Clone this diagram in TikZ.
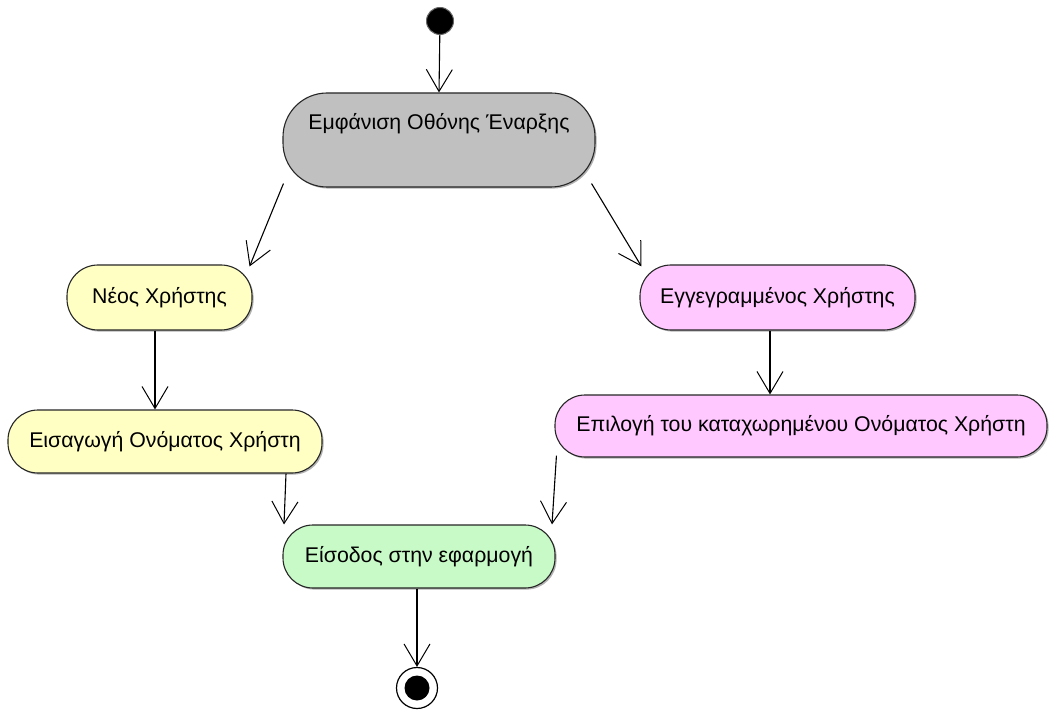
\documentclass[tikz,border=0pt]{standalone}
\usepackage{fontspec}
\setmainfont{Liberation Sans}
\usetikzlibrary{arrows.meta,shadows}
\definecolor{actgray}{RGB}{192,192,192}
\definecolor{actyellow}{RGB}{255,255,196}
\definecolor{actpink}{RGB}{255,200,255}
\definecolor{actgreen}{RGB}{200,250,200}
\tikzset{
  activity/.style={draw=black!85, line width=1.1pt, rectangle,
    rounded corners=#1, inner sep=0pt,
    font=\fontsize{21.3}{25}\selectfont,
    general shadow={shadow xshift=1.6pt, shadow yshift=-1.6pt, fill=black!30}},
  flow/.style={draw=black, line width=1.1pt,
    -{Straight Barb[length=22pt,width=26pt,line width=1pt]}},
}
\begin{document}
\begin{tikzpicture}[x=1pt,y=-1pt]
  \useasboundingbox (0,0) rectangle (1049,711);
  % initial and final states
  \node[circle, fill=black, draw=black!60, line width=1pt,
        minimum size=27pt, inner sep=0pt] (start) at (440,21) {};
  \node[circle, fill=white, draw=black, line width=1.2pt,
        minimum size=41pt, inner sep=0pt] (final) at (417,688) {};
  \node[circle, fill=black, minimum size=25pt, inner sep=0pt] (finaldot) at (final) {};
  % activities
  \node[activity=44pt, fill=actgray, minimum width=312pt, minimum height=94pt,
        text height=15pt, text depth=35pt] (splash) at (439,140)
        {Εμφάνιση Οθόνης Έναρξης};
  \node[activity=31pt, fill=actyellow, minimum width=185pt, minimum height=65pt]
        (newuser) at (159.5,297.5) {Νέος Χρήστης};
  \node[activity=31pt, fill=actpink, minimum width=275pt, minimum height=65pt]
        (reguser) at (777.5,297.5) {Εγγεγραμμένος Χρήστης};
  \node[activity=30pt, fill=actyellow, minimum width=314pt, minimum height=63pt]
        (entername) at (165,441.5) {Εισαγωγή Ονόματος Χρήστη};
  \node[activity=30pt, fill=actpink, minimum width=492pt, minimum height=62pt]
        (pickname) at (801,426) {Επιλογή του καταχωρημένου Ονόματος Χρήστη};
  \node[activity=30pt, fill=actgreen, minimum width=272pt, minimum height=63pt]
        (login) at (419,556.5) {Είσοδος στην εφαρμογή};
  % control flows
  \draw[flow] (start) -- (splash.north);
  \draw[flow] ([shift={(1pt,4pt)}]splash.south west) -- ([shift={(-3pt,-2pt)}]newuser.north east);
  \draw[flow] ([shift={(-4pt,4pt)}]splash.south east) -- ([shift={(2pt,-2pt)}]reguser.north west);
  \draw[flow] ([xshift=-4.5pt]newuser.south) -- ([xshift=-4.5pt]newuser.south |- entername.north);
  \draw[flow] ([xshift=-7.5pt]reguser.south) -- ([xshift=-7.5pt]reguser.south |- pickname.north);
  \draw[flow] ([xshift=121pt]entername.south) -- ([xshift=-135pt]login.north);
  \draw[flow] ([shift={(2pt,2pt)}]pickname.south west) -- ([xshift=133pt]login.north);
  \draw[flow] ([xshift=-2pt]login.south) -- (final.north);
\end{tikzpicture}
\end{document}
